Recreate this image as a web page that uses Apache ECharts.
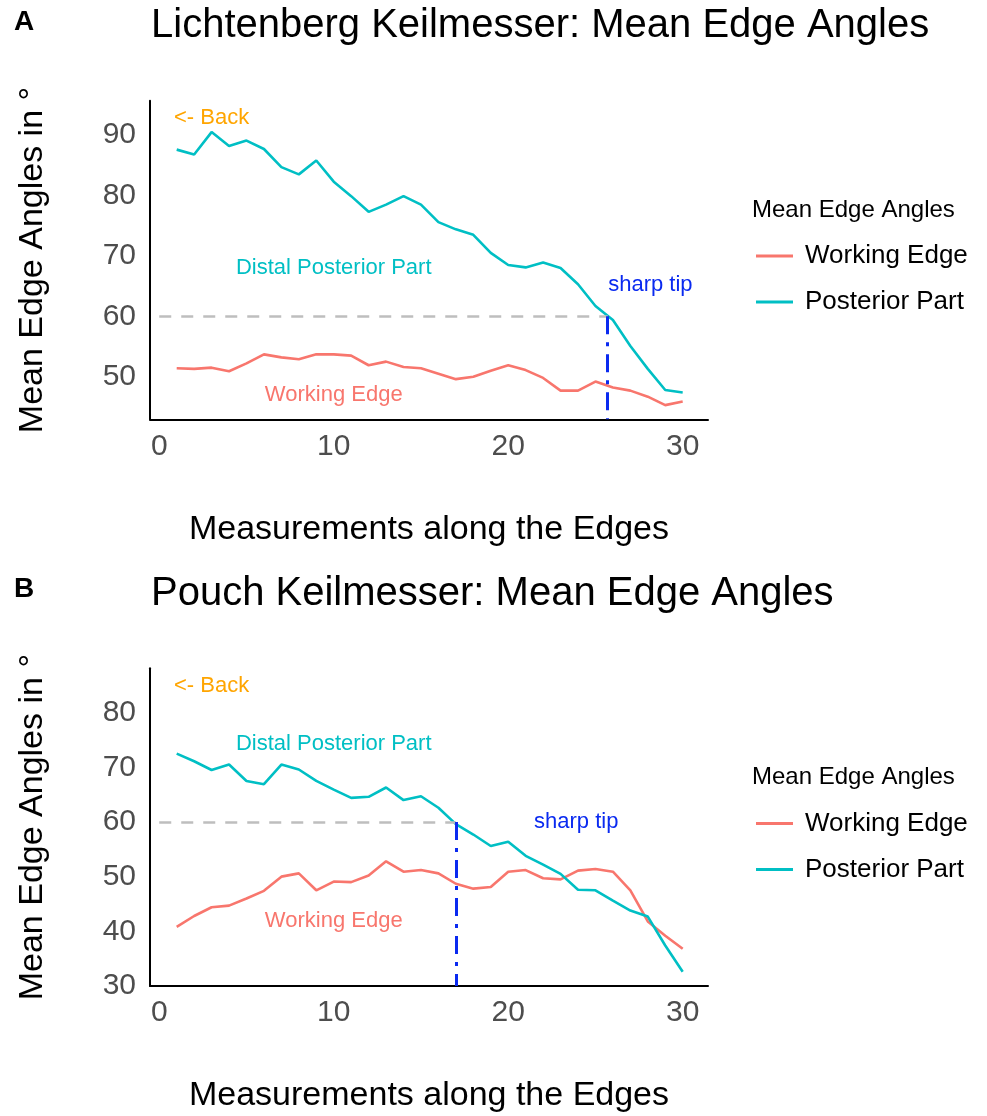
<!doctype html>
<html>
<head>
<meta charset="UTF-8">
<title>Mean Edge Angles</title>
<style>
  html, body { margin: 0; padding: 0; background: #fff; }
  #main { width: 987px; height: 1116px; }
</style>
</head>
<body>
<div id="main"></div>
<script src="https://cdn.jsdelivr.net/npm/echarts@6/dist/echarts.min.js"></script>
<script>
// measurement index along the edge
var xs = [1, 2, 3, 4, 5, 6, 7, 8, 9, 10, 11, 12, 13, 14, 15,
          16, 17, 18, 19, 20, 21, 22, 23, 24, 25, 26, 27, 28, 29, 30];

// A: Lichtenberg Keilmesser
var workingA = [51.4, 51.3, 51.5, 50.9, 52.2, 53.7, 53.2, 52.9, 53.7, 53.7, 53.5, 51.9, 52.5, 51.6, 51.4,
                50.5, 49.6, 50.0, 51.0, 51.9, 51.1, 49.8, 47.7, 47.7, 49.2, 48.2, 47.7, 46.7, 45.3, 45.9];
var posteriorA = [87.6, 86.8, 90.5, 88.2, 89.1, 87.7, 84.7, 83.5, 85.8, 82.3, 79.9, 77.3, 78.5, 79.9, 78.5,
                  75.6, 74.4, 73.5, 70.5, 68.5, 68.1, 68.9, 68.0, 65.3, 61.7, 59.4, 55.1, 51.3, 47.8, 47.4];
var sharpTipA = 25.7;

// B: Pouch Keilmesser
var workingB = [40.8, 42.8, 44.4, 44.7, 46.0, 47.4, 50.0, 50.6, 47.5, 49.1, 49.0, 50.2, 52.8, 50.9, 51.2,
                50.6, 48.7, 47.8, 48.1, 50.9, 51.2, 49.7, 49.5, 51.1, 51.4, 50.9, 47.5, 41.8, 39.2, 36.8];
var posteriorB = [72.5, 71.1, 69.5, 70.5, 67.5, 66.9, 70.5, 69.6, 67.5, 65.9, 64.4, 64.6, 66.3, 64.0, 64.7,
                  62.6, 59.6, 57.7, 55.6, 56.4, 53.8, 52.2, 50.5, 47.6, 47.5, 45.6, 43.8, 42.7, 37.4, 32.6];
var sharpTipB = 17;

var threshold = 60;
var xTicks = [0, 10, 20, 30];

// text annotations: [x, y, text]
var notesA = [[3, 92.8, '<- Back'], [10, 68, 'Distal Posterior Part'], [10, 47, 'Working Edge'], [28.15, 65.2, 'sharp tip']];
var notesB = [[3, 84.9, '<- Back'], [10, 74.2, 'Distal Posterior Part'], [10, 41.9, 'Working Edge'], [23.9, 60, 'sharp tip']];

var FONT = '"Liberation Sans", Arial, Helvetica, sans-serif';
var RED = '#F8766D', TEAL = '#00BFC4', ORANGE = '#FFA500', BLUE = '#0a2af0';
var noteColors = [ORANGE, TEAL, RED, BLUE];

var myChart = echarts.init(document.getElementById('main'));

function pairs(vals) {
    return xs.map(function (x, i) { return [x, vals[i]]; });
}

var panels = [
    { title: 'Lichtenberg Keilmesser: Mean Edge Angles', tag: 'A', top: 100.7, height: 318.6,
      yMin: 42.95, yMax: 95.7, working: workingA, posterior: posteriorA, tip: sharpTipA, notes: notesA },
    { title: 'Pouch Keilmesser: Mean Edge Angles', tag: 'B', top: 668.3, height: 317.7,
      yMin: 30, yMax: 88.1, working: workingB, posterior: posteriorB, tip: sharpTipB, notes: notesB }
];

var option = {
    animation: false,
    backgroundColor: '#fff',
    textStyle: { fontFamily: FONT },
    title: [], legend: [], grid: [], xAxis: [], yAxis: [], series: []
};

panels.forEach(function (p, k) {
    var off = k * 567.5;
    option.title.push(
        { text: p.title, left: 146, top: 1 + off,
          textStyle: { fontSize: 40, fontWeight: 'normal', color: '#000', fontFamily: FONT } },
        { text: p.tag, left: 9, top: 3 + off,
          textStyle: { fontSize: 28, fontWeight: 'bold', color: '#000', fontFamily: FONT } },
        { text: 'Mean Edge Angles', left: 747, top: 193 + off,
          textStyle: { fontSize: 24, fontWeight: 'normal', color: '#000', fontFamily: FONT } }
    );
    option.legend.push({
        orient: 'vertical', left: 751, top: 238 + off,
        icon: 'rect', itemWidth: 37, itemHeight: 3, itemGap: 20,
        data: ['Working Edge', 'Posterior Part'],
        textStyle: { fontSize: 26, color: '#000', fontFamily: FONT, padding: [0, 0, 0, 7] }
    });
    option.grid.push({ left: 150, width: 558, top: p.top, height: p.height });
    option.xAxis.push({
        type: 'value', gridIndex: k, min: -0.53, max: 31.45, splitNumber: 3,
        name: 'Measurements along the Edges', nameLocation: 'middle', nameGap: 93,
        nameTextStyle: { fontSize: 34, color: '#000', fontFamily: FONT },
        axisLine: { onZero: false, lineStyle: { color: '#000', width: 2 } },
        axisTick: { show: false }, splitLine: { show: false },
        axisLabel: { fontSize: 30, color: '#4D4D4D', margin: 12, fontFamily: FONT,
            formatter: function (v) { return xTicks.indexOf(v) >= 0 ? String(v) : ''; } }
    });
    option.yAxis.push({
        type: 'value', gridIndex: k, min: p.yMin, max: p.yMax,
        name: 'Mean Edge Angles in °', nameLocation: 'middle', nameGap: 100,
        nameTextStyle: { fontSize: 34, color: '#000', fontFamily: FONT },
        axisLine: { onZero: false, lineStyle: { color: '#000', width: 2 } },
        axisTick: { show: false }, splitLine: { show: false },
        axisLabel: { fontSize: 30, color: '#4D4D4D', margin: 14, fontFamily: FONT,
            formatter: function (v) { return Math.abs(v % 10) < 1e-9 ? String(v) : ''; } }
    });
    option.series.push(
        {
            name: 'Working Edge', type: 'line', xAxisIndex: k, yAxisIndex: k,
            data: pairs(p.working), symbol: 'none', smooth: false,
            lineStyle: { color: RED, width: 2.6 }, itemStyle: { color: RED },
            markLine: {
                silent: true, symbol: 'none', label: { show: false },
                data: [
                    [{ coord: [0, threshold], lineStyle: { color: '#BEBEBE', width: 2.5, type: [12, 10] } },
                     { coord: [p.tip, threshold] }],
                    [{ coord: [p.tip, threshold], lineStyle: { color: BLUE, width: 3, type: [18, 8, 4, 8] } },
                     { coord: [p.tip, p.yMin] }]
                ]
            }
        },
        {
            name: 'Posterior Part', type: 'line', xAxisIndex: k, yAxisIndex: k,
            data: pairs(p.posterior), symbol: 'none', smooth: false,
            lineStyle: { color: TEAL, width: 2.6 }, itemStyle: { color: TEAL },
            markPoint: {
                silent: true, symbol: 'circle', symbolSize: 1,
                itemStyle: { color: 'transparent' },
                data: p.notes.map(function (n, i) {
                    return {
                        name: n[2], coord: [n[0], n[1]],
                        label: { show: true, position: 'inside', formatter: '{b}',
                                 fontSize: 22, color: noteColors[i], fontFamily: FONT }
                    };
                })
            }
        }
    );
});

myChart.setOption(option);
</script>
</body>
</html>
